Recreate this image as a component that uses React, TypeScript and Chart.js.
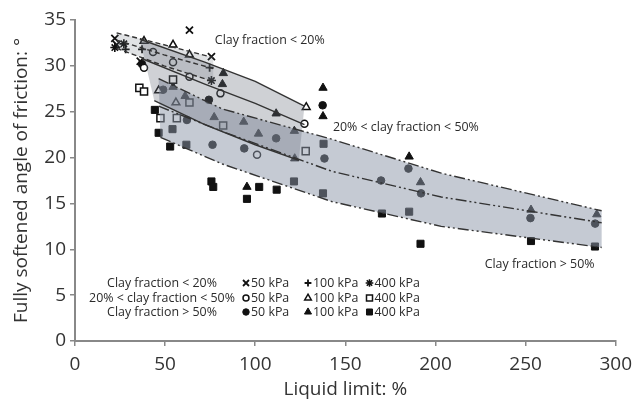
import React, { useEffect, useRef } from 'react';
import { Chart, registerables } from 'chart.js';
import { drawPoint } from 'chart.js/helpers';

Chart.register(...registerables);

// ---- tick settings ----
const xTicks = [0, 50, 100, 150, 200, 250, 300];
const yTicks = [0, 5, 10, 15, 20, 25, 30, 35];

// ---- data points: clay fraction < 20% ----
const cf20_50kPa = [[22.1, 33.0], [23.1, 32.3], [36.2, 30.5], [63.5, 33.9], [75.7, 31.0]];
const cf20_100kPa = [[28.1, 31.8], [37.2, 31.8], [74.7, 29.8]];
const cf20_400kPa = [[22.1, 32.0], [27.1, 32.4], [75.7, 28.4]];

// ---- 20% < clay fraction < 50% ----
const cf2050_50kPa = [[38.3, 29.8], [43.3, 31.5], [54.4, 30.4], [63.5, 28.8], [80.7, 27.0], [127.3, 23.7], [101, 20.3]];
const cf2050_100kPa = [[38.3, 32.7], [54.4, 32.3], [63.5, 31.2], [46.4, 27.3], [56, 26.0], [128.3, 25.5]];
const cf2050_400kPa = [[35.7, 27.6], [38.3, 27.2], [54.4, 28.5], [63.5, 26.0], [47.4, 24.3], [56.5, 24.3], [82.2, 23.5], [128, 20.7]];

// ---- clay fraction > 50% ----
const cf50_50kPa = [[37.2, 30.2], [48.9, 27.4], [74.3, 26.3], [62.1, 24.1], [76.3, 21.4], [93.9, 21.0], [111.6, 22.1], [137.4, 25.7], [138.4, 19.9], [169.8, 17.5], [185, 18.8], [192, 16.1], [252.7, 13.4], [288.6, 12.8]];
const cf50_100kPa = [[54.4, 27.7], [61.1, 26.7], [77.2, 24.4], [82.3, 29.2], [81.8, 28.0], [93.6, 23.9], [101.8, 22.6], [111.6, 24.8], [121.7, 22.9], [121.9, 19.9], [137.6, 27.6], [137.6, 24.5], [95.4, 16.8], [185.4, 20.1], [191.7, 17.3], [253, 14.3], [289.5, 13.8]];
const cf50_400kPa = [[44.3, 25.2], [46.4, 22.7], [54.1, 23.1], [52.8, 21.2], [61.8, 21.4], [75.7, 17.4], [76.7, 16.8], [95.4, 15.5], [102.2, 16.8], [111.9, 16.5], [121.5, 17.4], [137.9, 21.5], [137.6, 16.1], [170.3, 13.9], [185.4, 14.1], [191.7, 10.6], [253, 10.9], [288.5, 10.3]];

// ---- trend lines / band edges ----
const band20Top = [[23.1, 33.6], [49.4, 32.3], [76.7, 30.9]];
const band20Mid = [[23.1, 32.8], [49.4, 31.2], [76.7, 29.7]];
const band20Bot = [[23.1, 31.9], [49.4, 30.0], [76.7, 28.3]];

const band2050Top = [[36, 32.9], [72, 30.4], [100, 28.3], [127.3, 25.6]];
const band2050Mid = [[37, 30.8], [72, 28.0], [100, 25.9], [127.3, 23.6]];
const band2050Bot = [[44, 26.2], [72, 23.6], [100, 21.4], [124.2, 19.7]];

const band50Top = [[46.4, 28.6], [81.8, 25.3], [142.5, 22.0], [203.2, 18.3], [292.2, 14.2]];
const band50Mid = [[46.4, 25.6], [83.8, 22.7], [142.5, 18.5], [203.2, 15.7], [292.2, 12.9]];
const band50Bot = [[47.4, 22.2], [81.8, 19.3], [142.5, 15.2], [203.2, 12.5], [292.2, 10.2]];

// ---- texts ----
const legendRows = ['Clay fraction < 20%', '20% < clay fraction < 50%', 'Clay fraction > 50%'];
const legendCols = ['50 kPa', '100 kPa', '400 kPa'];
const bandLabels = [
  { text: 'Clay fraction < 20%', x: 77.6, y: 32.8 },
  { text: '20% < clay fraction < 50%', x: 143.1, y: 23.3 },
  { text: 'Clay fraction > 50%', x: 227.3, y: 8.34 },
];

const FONT = 'Open Sans';
const toXY = (arr: number[][]) => arr.map(([x, y]) => ({ x, y }));

const seriesDefs = [
  { data: cf20_50kPa, style: 'crossRot', fill: false, r: 5, bw: 1.8 },
  { data: cf20_100kPa, style: 'cross', fill: false, r: 4, bw: 1.8 },
  { data: cf20_400kPa, style: 'star', fill: false, r: 4.5, bw: 1.6 },
  { data: cf2050_50kPa, style: 'circle', fill: false, r: 3.5, bw: 1.5 },
  { data: cf2050_100kPa, style: 'triangle', fill: false, r: 4.5, bw: 1.5 },
  { data: cf2050_400kPa, style: 'rect', fill: false, r: 5, bw: 1.5 },
  { data: cf50_50kPa, style: 'circle', fill: true, r: 3.8, bw: 1 },
  { data: cf50_100kPa, style: 'triangle', fill: true, r: 4.8, bw: 1 },
  { data: cf50_400kPa, style: 'rect', fill: true, r: 5, bw: 1 },
];

const bandsPlugin = {
  id: 'bands',
  afterDatasetsDraw(chart: any) {
    const { ctx, scales } = chart;
    const xs = scales.x;
    const ys = scales.y;
    const px = (p: number[]) => [xs.getPixelForValue(p[0]), ys.getPixelForValue(p[1])];
    const bands = [
      { top: band50Top, bot: band50Bot, color: 'rgba(140,150,168,0.5)' },
      { top: band2050Top, bot: band2050Bot, color: 'rgba(105,112,125,0.32)' },
      { top: band20Top, bot: band20Bot, color: 'rgba(100,108,118,0.2)' },
    ];
    ctx.save();
    bands.forEach((b) => {
      ctx.beginPath();
      b.top.forEach((p, i) => {
        const [x, y] = px(p);
        if (i === 0) ctx.moveTo(x, y);
        else ctx.lineTo(x, y);
      });
      [...b.bot].reverse().forEach((p) => {
        const [x, y] = px(p);
        ctx.lineTo(x, y);
      });
      ctx.closePath();
      ctx.fillStyle = b.color;
      ctx.fill();
    });
    const dashDot = [11, 3, 2, 3, 2, 3];
    const lines = [
      { pts: band20Top, dash: [5, 3] },
      { pts: band20Mid, dash: [5, 3] },
      { pts: band20Bot, dash: [5, 3] },
      { pts: band2050Top, dash: [] },
      { pts: band2050Mid, dash: [] },
      { pts: band2050Bot, dash: [] },
      { pts: band50Top, dash: dashDot },
      { pts: band50Mid, dash: dashDot },
      { pts: band50Bot, dash: dashDot },
    ];
    ctx.strokeStyle = '#333';
    ctx.lineWidth = 1.4;
    lines.forEach((l) => {
      ctx.beginPath();
      ctx.setLineDash(l.dash);
      l.pts.forEach((p, i) => {
        const [x, y] = px(p);
        if (i === 0) ctx.moveTo(x, y);
        else ctx.lineTo(x, y);
      });
      ctx.stroke();
    });
    ctx.setLineDash([]);

    // band labels
    ctx.fillStyle = '#2a2a2a';
    ctx.font = `12.4px "${FONT}"`;
    ctx.textBaseline = 'middle';
    ctx.textAlign = 'left';
    bandLabels.forEach((l) => {
      ctx.fillText(l.text, xs.getPixelForValue(l.x), ys.getPixelForValue(l.y));
    });

    // legend block
    const rowY = [283, 298, 312];
    const labelCx = 162;
    const markX = [246, 308, 369.5];
    ctx.textAlign = 'center';
    legendRows.forEach((t, i) => ctx.fillText(t, labelCx, rowY[i]));
    ctx.textAlign = 'left';
    for (let r = 0; r < 3; r++) {
      for (let c = 0; c < 3; c++) {
        const def = seriesDefs[r * 3 + c];
        ctx.fillStyle = def.fill ? '#111' : '#fff';
        ctx.strokeStyle = '#111';
        ctx.lineWidth = def.bw;
        drawPoint(ctx, { pointStyle: def.style, radius: def.r * 0.85, borderWidth: def.bw, rotation: 0 } as any, markX[c], rowY[r]);
        ctx.fillStyle = '#2a2a2a';
        ctx.fillText(legendCols[c], markX[c] + 5, rowY[r]);
      }
    }
    ctx.restore();
  },
};

export default function App() {
  const ref = useRef<HTMLCanvasElement>(null);
  useEffect(() => {
    if (!ref.current) return;
    const chart = new Chart(ref.current, {
      type: 'scatter',
      data: {
        datasets: seriesDefs.map((d) => ({
          data: toXY(d.data),
          pointStyle: d.style as any,
          pointRadius: d.r,
          pointBorderWidth: d.bw,
          pointBorderColor: '#111',
          pointBackgroundColor: d.fill ? '#111' : '#fff',
          showLine: false,
        })),
      },
      options: {
        responsive: false,
        animation: false,
        events: [],
        layout: { padding: { top: 20, right: 19, left: 0, bottom: 0 } },
        plugins: { legend: { display: false }, tooltip: { enabled: false } },
        scales: {
          x: {
            type: 'linear',
            min: 0,
            max: 300,
            afterBuildTicks: (s: any) => { s.ticks = xTicks.map((v) => ({ value: v })); },
            afterFit: (s: any) => { s.height = 60; },
            ticks: { font: { family: FONT, size: 19 }, color: '#333', padding: 7, maxRotation: 0 },
            grid: { drawOnChartArea: false, drawTicks: true, tickLength: 5, color: '#888', lineWidth: 1.5 },
            border: { color: '#888', width: 2 },
            title: { display: true, text: 'Liquid limit: %', font: { family: FONT, size: 19 }, color: '#333', padding: { top: 0, bottom: 0 } },
          },
          y: {
            type: 'linear',
            min: 0,
            max: 35,
            afterBuildTicks: (s: any) => { s.ticks = yTicks.map((v) => ({ value: v })); },
            afterFit: (s: any) => { s.width = 75; },
            ticks: { font: { family: FONT, size: 19 }, color: '#333', padding: 4 },
            grid: { drawOnChartArea: false, drawTicks: true, tickLength: 5, color: '#888', lineWidth: 1.5 },
            border: { color: '#888', width: 2 },
            title: { display: true, text: 'Fully softened angle of friction: °', font: { family: FONT, size: 19 }, color: '#333', padding: { top: 10, bottom: 0 } },
          },
        },
      },
      plugins: [bandsPlugin],
    });
    return () => chart.destroy();
  }, []);
  return (
    <div style={{ position: 'fixed', left: 0, top: 0, width: 639, height: 401, background: '#fff' }}>
      <canvas ref={ref} width={639} height={401} style={{ width: 639, height: 401 }} />
    </div>
  );
}
